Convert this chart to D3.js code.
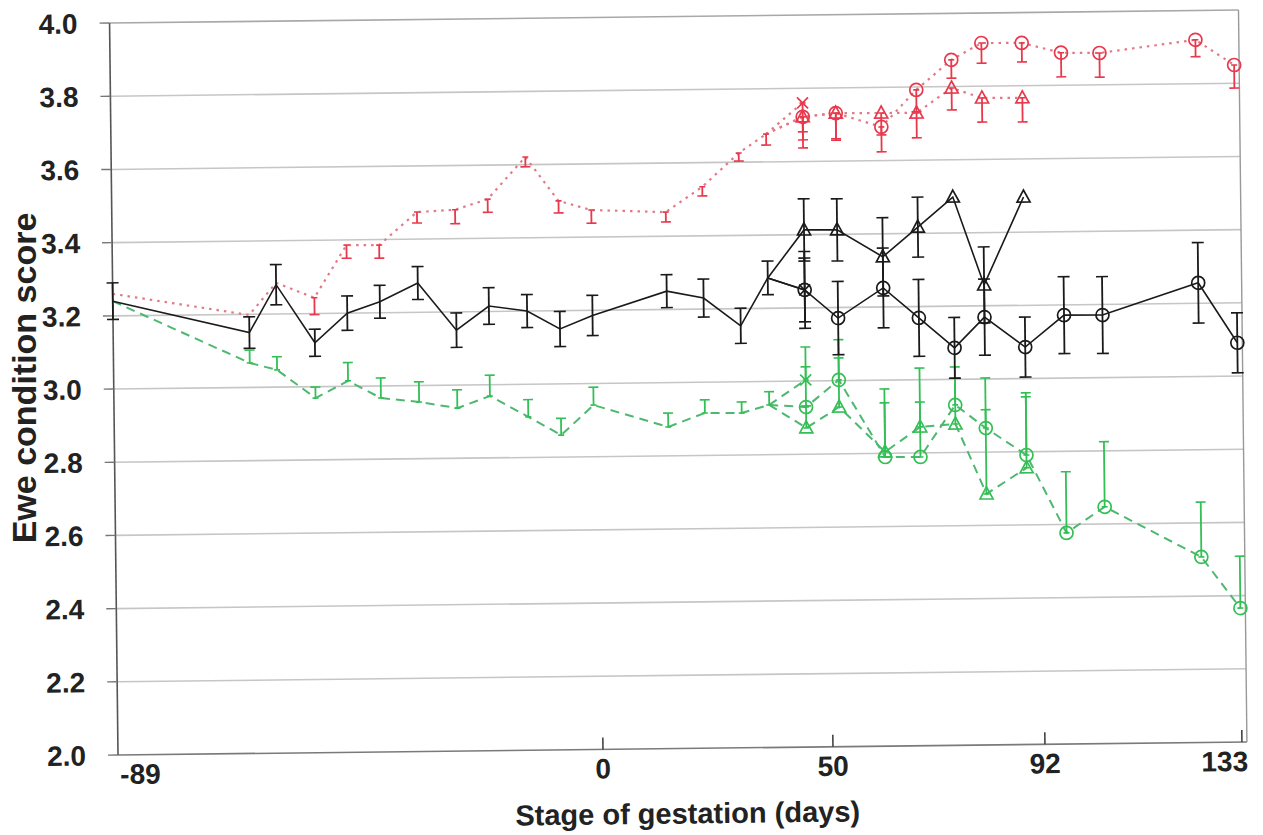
<!DOCTYPE html>
<html>
<head>
<meta charset="utf-8">
<script src="https://cdn.jsdelivr.net/npm/d3@7"></script>
<style>
body { margin: 0; background: #fff; }
svg { display: block; font-family: "Liberation Sans", Arial, sans-serif; }
</style>
</head>
<body>
<svg id="chart" width="1263" height="835"></svg>
<script>
// ---- data ----
var yTicks = [2.0, 2.2, 2.4, 2.6, 2.8, 3.0, 3.2, 3.4, 3.6, 3.8, 4.0];
var xTicks = [-89, 0, 50, 92, 133];

// days before the groups split, and after
var commonDays = [-89, -64, -59, -52, -46, -40, -33, -26, -20, -13, -7, -1, 15, 23, 31, 37];
var splitDays = [45, 52, 61, 68, 75, 81, 89, 97, 105, 125, 133];
var twinDays = [45, 52, 61, 68, 75, 81, 89];
var xDay = 45;

// black (solid)
var blackCommon = [3.24, 3.15, 3.28, 3.12, 3.20, 3.23, 3.28, 3.15, 3.215, 3.20, 3.15, 3.186, 3.25, 3.23, 3.153, 3.283];
var blackCommonErr = [0.05, 0.043, 0.055, 0.037, 0.047, 0.045, 0.045, 0.047, 0.05, 0.045, 0.048, 0.055, 0.045, 0.052, 0.048, 0.046];
var blackX = 3.249, blackXErr = 0.087;
var blackCircle = [3.249, 3.171, 3.252, 3.169, 3.086, 3.169, 3.086, 3.172, 3.171, 3.256, 3.091];
var blackCircleErr = [0.105, 0.1, 0.109, 0.105, 0.083, 0.104, 0.082, 0.105, 0.105, 0.11, 0.082];
var blackTri = [3.413, 3.412, 3.337, 3.417, 3.498, 3.257, 3.496];
var blackTriErr = [0.085, 0.085, 0.107, 0.082, 0, 0.104, 0];

// red (dotted), error bars below the mean
var redCommon = [3.26, 3.198, 3.285, 3.243, 3.386, 3.385, 3.474, 3.479, 3.507, 3.621, 3.50, 3.474, 3.466, 3.534, 3.625, 3.676];
var redCommonErr = [0, 0, 0, 0.046, 0.036, 0.036, 0.03, 0.038, 0.036, 0.027, 0.033, 0.036, 0.027, 0.025, 0.022, 0.03];
var redX = 3.76, redXErr = 0.079;
var redCircle = [3.722, 3.731, 3.692, 3.792, 3.873, 3.918, 3.917, 3.889, 3.887, 3.92, 3.85];
var redCircleErr = [0.085, 0.074, 0.068, 0.06, 0.05, 0.055, 0.052, 0.066, 0.066, 0.046, 0.063];
var redTri = [3.722, 3.731, 3.73, 3.729, 3.796, 3.768, 3.767];
var redTriErr = [0.063, 0.07, 0.06, 0.068, 0.06, 0.066, 0.066];

// green (dashed), error bars above the mean
var greenCommon = [3.24, 3.067, 3.047, 2.969, 3.015, 2.967, 2.955, 2.937, 2.969, 2.911, 2.86, 2.941, 2.879, 2.916, 2.915, 2.936];
var greenCommonErr = [0, 0.035, 0.036, 0.03, 0.05, 0.055, 0.055, 0.05, 0.057, 0.047, 0.046, 0.049, 0.038, 0.036, 0.03, 0.036];
var greenX = 3.003, greenXErr = 0.09;
var greenCircle = [2.929, 3.002, 2.79, 2.789, 2.93, 2.866, 2.791, 2.577, 2.647, 2.507, 2.366];
var greenCircleErr = [0.11, 0.11, 0.148, 0.243, 0.104, 0.05, 0.17, 0.167, 0.178, 0.15, 0.142];
var greenTri = [2.872, 2.928, 2.804, 2.871, 2.878, 2.686, 2.756];
var greenTriErr = [0.06, 0.134, 0.172, 0.068, 0.126, 0.317, 0.194];

// ---- layout ----
var plotL = 118, plotR = 1247, plotT = 23, plotB = 755;

var x = d3.scaleLinear().domain(xTicks).range([plotL, 603, 833, 1045, 1242]);
var y = d3.scaleLinear().domain([2, 4]).range([plotB, plotT]);

var svg = d3.select("#chart");
// the scanned figure sits slightly tilted
var g = svg.append("g").attr("transform", "rotate(-0.66," + plotL + "," + plotB + ")");

// grid
g.selectAll(".grid").data(yTicks).enter()
  .append("line")
  .attr("x1", plotL).attr("x2", plotR)
  .attr("y1", function(d){ return y(d); })
  .attr("y2", function(d){ return y(d); })
  .attr("stroke", function(d){ return d == 2 ? "#7a7a7a" : (d == 4 ? "#a8a8a8" : "#c6c6c6"); })
  .attr("stroke-width", 1.6);

g.append("line").attr("x1", plotL).attr("x2", plotL).attr("y1", plotT).attr("y2", plotB)
  .attr("stroke", "#555").attr("stroke-width", 1.6);
g.append("line").attr("x1", plotR).attr("x2", plotR).attr("y1", plotT).attr("y2", plotB)
  .attr("stroke", "#999").attr("stroke-width", 1.4);

// y ticks + labels
g.selectAll(".ytick").data(yTicks).enter()
  .append("line")
  .attr("x1", plotL - 10).attr("x2", plotL)
  .attr("y1", function(d){ return y(d); })
  .attr("y2", function(d){ return y(d); })
  .attr("stroke", "#777").attr("stroke-width", 1.4);

g.selectAll(".ylab").data(yTicks).enter()
  .append("text")
  .attr("x", 86)
  .attr("y", function(d){ return y(d); })
  .attr("dy", "0.36em")
  .attr("text-anchor", "end")
  .style("font-size", "28px").style("font-weight", "bold").style("fill", "#222")
  .text(function(d){ return d3.format(".1f")(d); });

// x ticks (inward) + labels
g.selectAll(".xtick").data(xTicks.slice(1)).enter()
  .append("line")
  .attr("x1", function(d){ return x(d); }).attr("x2", function(d){ return x(d); })
  .attr("y1", plotB).attr("y2", plotB - 12)
  .attr("stroke", "#444").attr("stroke-width", 1.6);

g.selectAll(".xlab").data(xTicks).enter()
  .append("text")
  .attr("x", function(d,i){ return i == 0 ? x(d) + 2 : (i == xTicks.length-1 ? x(d) + 6 : x(d)); })
  .attr("y", 784)
  .attr("text-anchor", function(d,i){ return i == 0 ? "start" : (i == xTicks.length-1 ? "end" : "middle"); })
  .style("font-size", "28px").style("font-weight", "bold").style("fill", "#222")
  .text(function(d){ return d; });

// axis titles
g.append("text")
  .attr("x", 687).attr("y", 830)
  .attr("text-anchor", "middle")
  .style("font-size", "29px").style("font-weight", "bold").style("fill", "#222")
  .text("Stage of gestation (days)");

svg.append("text")
  .attr("transform", "translate(36,378) rotate(-90)")
  .attr("text-anchor", "middle")
  .style("font-size", "34px").style("font-weight", "bold").style("fill", "#222")
  .text("Ewe condition score");

// ---- series ----
function pairs(days, vals){
  return days.map(function(d,i){ return [d, vals[i]]; });
}

var line = d3.line()
  .x(function(d){ return x(d[0]); })
  .y(function(d){ return y(d[1]); });

function drawLine(pts, color, dash, width){
  g.append("path")
    .datum(pts)
    .attr("d", line)
    .attr("fill", "none")
    .attr("stroke", color)
    .attr("stroke-width", width)
    .attr("stroke-dasharray", dash);
}

// dir: "both", "up" or "down"
function drawErr(days, vals, errs, dir, color, cap){
  for (var i = 0; i < days.length; i++) {
    if (!errs[i]) continue;
    var cx = x(days[i]);
    var y0 = y(vals[i]);
    var y1 = dir == "down" ? y0 : y(vals[i] + errs[i]);
    var y2 = dir == "up" ? y0 : y(vals[i] - errs[i]);
    g.append("line").attr("x1", cx).attr("x2", cx).attr("y1", y1).attr("y2", y2)
      .attr("stroke", color).attr("stroke-width", 1.8);
    var capTop = dir == "down" ? 3 : cap, capBot = dir == "up" ? 3 : cap;
    g.append("line").attr("x1", cx - capTop).attr("x2", cx + capTop).attr("y1", y1).attr("y2", y1)
      .attr("stroke", color).attr("stroke-width", 1.6);
    g.append("line").attr("x1", cx - capBot).attr("x2", cx + capBot).attr("y1", y2).attr("y2", y2)
      .attr("stroke", color).attr("stroke-width", 1.6);
  }
}

function drawCircles(days, vals, color){
  g.selectAll(null).data(pairs(days, vals)).enter()
    .append("circle")
    .attr("cx", function(d){ return x(d[0]); })
    .attr("cy", function(d){ return y(d[1]); })
    .attr("r", 6.5)
    .attr("fill", "none").attr("stroke", color).attr("stroke-width", 1.7);
}

function drawTris(days, vals, color){
  g.selectAll(null).data(pairs(days, vals)).enter()
    .append("path")
    .attr("transform", function(d){ return "translate(" + x(d[0]) + "," + y(d[1]) + ")"; })
    .attr("d", "M0,-7L6.5,5L-6.5,5Z")
    .attr("fill", "none").attr("stroke", color).attr("stroke-width", 1.7);
}

function drawX(day, val, color){
  g.append("path")
    .attr("transform", "translate(" + x(day) + "," + y(val) + ")")
    .attr("d", "M-5.5,-5.5L5.5,5.5M-5.5,5.5L5.5,-5.5")
    .attr("fill", "none").attr("stroke", color).attr("stroke-width", 1.7);
}

function drawGroup(o){
  var last = [commonDays[commonDays.length-1], o.common[o.common.length-1]];
  drawLine(pairs(commonDays, o.common), o.line, o.dash, o.width);
  drawLine([last, [xDay, o.x]], o.line, o.dash, o.width);
  drawLine([last].concat(pairs(splitDays, o.circle)), o.line, o.dash, o.width);
  drawLine([last].concat(pairs(twinDays, o.tri)), o.line, o.dash, o.width);

  drawErr(commonDays, o.common, o.commonErr, o.dir, o.color, o.cap);
  drawErr([xDay], [o.x], [o.xErr], o.dir, o.color, o.cap);
  drawErr(splitDays, o.circle, o.circleErr, o.dir, o.color, o.cap);
  drawErr(twinDays, o.tri, o.triErr, o.dir, o.color, o.cap);

  drawX(xDay, o.x, o.color);
  drawCircles(splitDays, o.circle, o.color);
  drawTris(twinDays, o.tri, o.color);
}

drawGroup({ common: redCommon, commonErr: redCommonErr, x: redX, xErr: redXErr,
  circle: redCircle, circleErr: redCircleErr, tri: redTri, triErr: redTriErr,
  dir: "down", color: "#e8384c", line: "#e07a86", dash: "2.5,5", width: 2.2, cap: 5 });

drawGroup({ common: greenCommon, commonErr: greenCommonErr, x: greenX, xErr: greenXErr,
  circle: greenCircle, circleErr: greenCircleErr, tri: greenTri, triErr: greenTriErr,
  dir: "up", color: "#33bf55", line: "#4fb870", dash: "9,6", width: 2, cap: 5 });

drawGroup({ common: blackCommon, commonErr: blackCommonErr, x: blackX, xErr: blackXErr,
  circle: blackCircle, circleErr: blackCircleErr, tri: blackTri, triErr: blackTriErr,
  dir: "both", color: "#1a1a1a", line: "#1a1a1a", dash: null, width: 1.6, cap: 6 });
</script>
</body>
</html>
